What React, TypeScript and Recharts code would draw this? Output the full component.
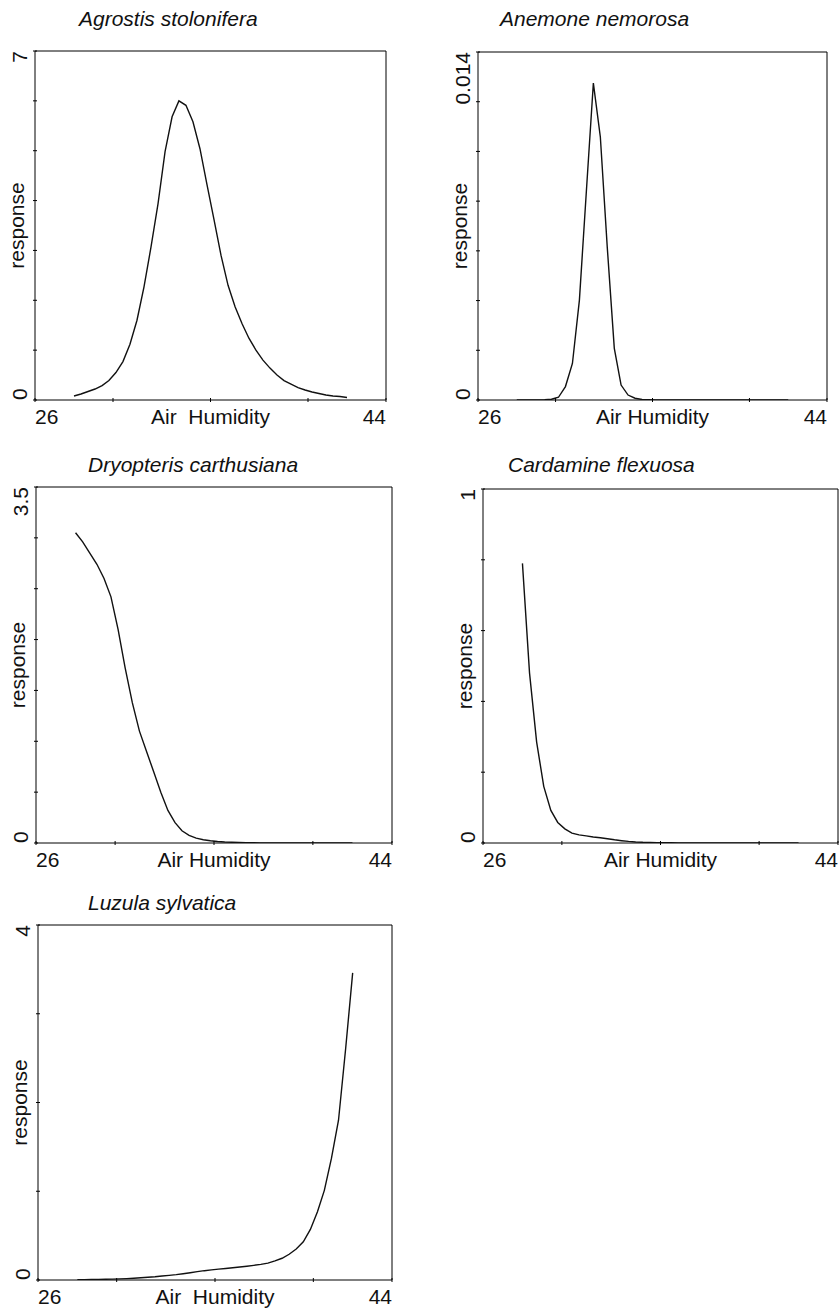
import React from 'react'
import { LineChart, Line, XAxis, YAxis, ReferenceArea } from 'recharts'

// air humidity sample points (shared by all species)
const humidity = [
  28, 28.36, 28.72, 29.08, 29.44, 29.79, 30.15, 30.51, 30.87, 31.23,
  31.59, 31.95, 32.31, 32.67, 33.03, 33.38, 33.74, 34.1, 34.46, 34.82,
  35.18, 35.54, 35.9, 36.26, 36.62, 36.97, 37.33, 37.69, 38.05, 38.41,
  38.77, 39.13, 39.49, 39.85, 40.21, 40.56, 40.92, 41.28, 41.64, 42,
]

const agrostis = [
  0.08, 0.12, 0.17, 0.22, 0.29, 0.39, 0.55, 0.77, 1.12, 1.6,
  2.27, 3.07, 3.94, 4.98, 5.68, 6.0, 5.91, 5.58, 5.04, 4.32,
  3.62, 2.9, 2.3, 1.87, 1.53, 1.24, 1.0, 0.8, 0.64, 0.5,
  0.39, 0.32, 0.25, 0.2, 0.16, 0.13, 0.1, 0.08, 0.07, 0.05,
]

const anemone = [
  0, 0, 0, 0.000005, 0.00001, 0.00003, 0.00011, 0.00054, 0.00147, 0.00402,
  0.00841, 0.01275, 0.01058, 0.00611, 0.00208, 0.0006, 0.0002, 0.00007, 0.00002, 0.00001,
  0, 0, 0, 0, 0, 0, 0, 0, 0, 0,
  0, 0, 0, 0, 0, 0, 0, 0, 0, 0,
]

const dryopteris = [
  3.05, 2.96, 2.85, 2.74, 2.6, 2.42, 2.1, 1.72, 1.38, 1.1,
  0.9, 0.7, 0.5, 0.32, 0.2, 0.12, 0.075, 0.048, 0.032, 0.022,
  0.015, 0.01, 0.007, 0.005, 0.003, 0.002, 0.0015, 0.001, 0.0007, 0.0005,
  0.0003, 0.0002, 0.0001, 0.0001, 0.0001, 0, 0, 0, 0, 0,
]

const cardamine = [
  0.79, 0.48, 0.285, 0.16, 0.092, 0.058, 0.04, 0.028, 0.023, 0.02,
  0.017, 0.015, 0.012, 0.009, 0.0065, 0.0045, 0.003, 0.002, 0.0015, 0.001,
  0.0008, 0.0005, 0.0003, 0.0002, 0.0001, 0.0001, 0, 0, 0, 0,
  0, 0, 0, 0, 0, 0, 0, 0, 0, 0,
]

const luzula = [
  0.004, 0.004, 0.005, 0.006, 0.008, 0.01, 0.013, 0.016, 0.02, 0.025,
  0.031, 0.037, 0.045, 0.052, 0.06, 0.07, 0.082, 0.094, 0.105, 0.114,
  0.122, 0.13, 0.138, 0.146, 0.155, 0.165, 0.176, 0.19, 0.215, 0.245,
  0.29, 0.35, 0.43, 0.57, 0.77, 1.01, 1.37, 1.8, 2.6, 3.46,
]

const titles = [
  'Agrostis stolonifera',
  'Anemone nemorosa',
  'Dryopteris carthusiana',
  'Cardamine flexuosa',
  'Luzula sylvatica',
]

const xLabels = ['Air\u00a0 Humidity', 'Air Humidity', 'Air Humidity', 'Air Humidity', 'Air\u00a0 Humidity']

const xTicks = [26, 30, 35, 40, 44]

const yTicks = [
  [0, 1, 2, 3, 4, 5, 6, 7],
  [0, 0.002, 0.004, 0.006, 0.008, 0.01, 0.012, 0.014],
  [0, 0.5, 1, 1.5, 2, 2.5, 3, 3.5],
  [0, 0.2, 0.4, 0.6, 0.8, 1],
  [0, 1, 2, 3, 4],
]

const series = [agrostis, anemone, dryopteris, cardamine, luzula]

// plot boxes on the page
const frames = [
  { left: 35, top: 51, right: 386, bottom: 400, titleX: 79, titleBase: 26 },
  { left: 478, top: 52, right: 827, bottom: 400, titleX: 500, titleBase: 26 },
  { left: 36, top: 487, right: 392, bottom: 843, titleX: 88, titleBase: 472 },
  { left: 483, top: 489, right: 838, bottom: 843, titleX: 508, titleBase: 472 },
  { left: 38, top: 925, right: 392, bottom: 1280, titleX: 88, titleBase: 910 },
]

const FONT = '"Liberation Sans", Arial, Helvetica, sans-serif'
const FS = 21
const PAD_L = 40
const PAD_T = 5
const PAD_R = 5
const PAD_B = 35

const renderXTick = (p: any) => {
  const v = p.payload.value
  const show = v === 26 || v === 44
  return (
    <g>
      <line x1={p.x} x2={p.x} y1={p.y - 2} y2={p.y + 2} stroke="#000" strokeWidth={1} />
      {show && (
        <text x={p.x} y={p.y + 23.5} textAnchor={v === 26 ? 'start' : 'end'} fontSize={FS} fontFamily={FONT} fill="#111">
          {v}
        </text>
      )}
    </g>
  )
}

const makeYTick = (max: number) => (p: any) => {
  const v = p.payload.value
  const show = v === 0 || v === max
  const tx = p.x - 8.5
  return (
    <g>
      <line x1={p.x - 2} x2={p.x + 2} y1={p.y} y2={p.y} stroke="#000" strokeWidth={1} />
      {show && (
        <text
          x={tx}
          y={p.y}
          transform={`rotate(-90 ${tx} ${p.y})`}
          textAnchor={v === 0 ? 'start' : 'end'}
          fontSize={FS}
          fontFamily={FONT}
          fill="#111"
        >
          {String(v)}
        </text>
      )}
    </g>
  )
}

function Panel({ idx }: { idx: number }) {
  const f = frames[idx]
  const ticks = yTicks[idx]
  const yMax = ticks[ticks.length - 1]
  const values = series[idx]
  const rows = humidity.map((x, i) => ({ x, y: values[i] }))
  const w = f.right - f.left + PAD_L + PAD_R
  const h = f.bottom - f.top + PAD_T + PAD_B

  return (
    <>
      <div
        style={{
          position: 'absolute',
          left: f.titleX,
          top: f.titleBase - 18,
          fontFamily: FONT,
          fontStyle: 'italic',
          fontSize: FS,
          lineHeight: FS + 'px',
          whiteSpace: 'nowrap',
          color: '#111',
        }}
      >
        {titles[idx]}
      </div>
      <div style={{ position: 'absolute', left: f.left - PAD_L, top: f.top - PAD_T }}>
        <LineChart width={w} height={h} data={rows} margin={{ top: PAD_T, right: PAD_R, bottom: 0, left: 0 }}>
          <XAxis
            type="number"
            dataKey="x"
            domain={[26, 44]}
            ticks={xTicks}
            interval={0}
            height={PAD_B}
            axisLine={false}
            tickLine={false}
            tickSize={0}
            tickMargin={0}
            tick={renderXTick}
            label={(lp: any) => {
              const vb = lp.viewBox || {}
              return (
                <text
                  x={vb.x + vb.width / 2}
                  y={vb.y + 23.5}
                  textAnchor="middle"
                  fontSize={FS}
                  fontFamily={FONT}
                  fill="#111"
                >
                  {xLabels[idx]}
                </text>
              )
            }}
          />
          <YAxis
            type="number"
            domain={[0, yMax]}
            ticks={ticks}
            interval={0}
            width={PAD_L}
            allowDataOverflow
            axisLine={false}
            tickLine={false}
            tickSize={0}
            tickMargin={0}
            tick={makeYTick(yMax)}
            label={(lp: any) => {
              const vb = lp.viewBox || {}
              const tx = vb.x + vb.width - 11.5
              const ty = vb.y + vb.height / 2
              return (
                <text
                  x={tx}
                  y={ty}
                  transform={`rotate(-90 ${tx} ${ty})`}
                  textAnchor="middle"
                  fontSize={FS}
                  fontFamily={FONT}
                  fill="#111"
                >
                  response
                </text>
              )
            }}
          />
          <ReferenceArea
            x1={26}
            x2={44}
            y1={0}
            y2={yMax}
            fill="none"
            fillOpacity={0}
            stroke="#000"
            strokeWidth={1}
            ifOverflow="visible"
          />
          <Line type="linear" dataKey="y" stroke="#111" strokeWidth={1.4} dot={false} isAnimationActive={false} />
        </LineChart>
      </div>
    </>
  )
}

export default function App() {
  return (
    <div
      style={{
        position: 'absolute',
        left: 0,
        top: 0,
        width: 839,
        height: 1309,
        overflow: 'hidden',
        background: '#fff',
      }}
    >
      {titles.map((_, i) => (
        <Panel key={i} idx={i} />
      ))}
    </div>
  )
}
